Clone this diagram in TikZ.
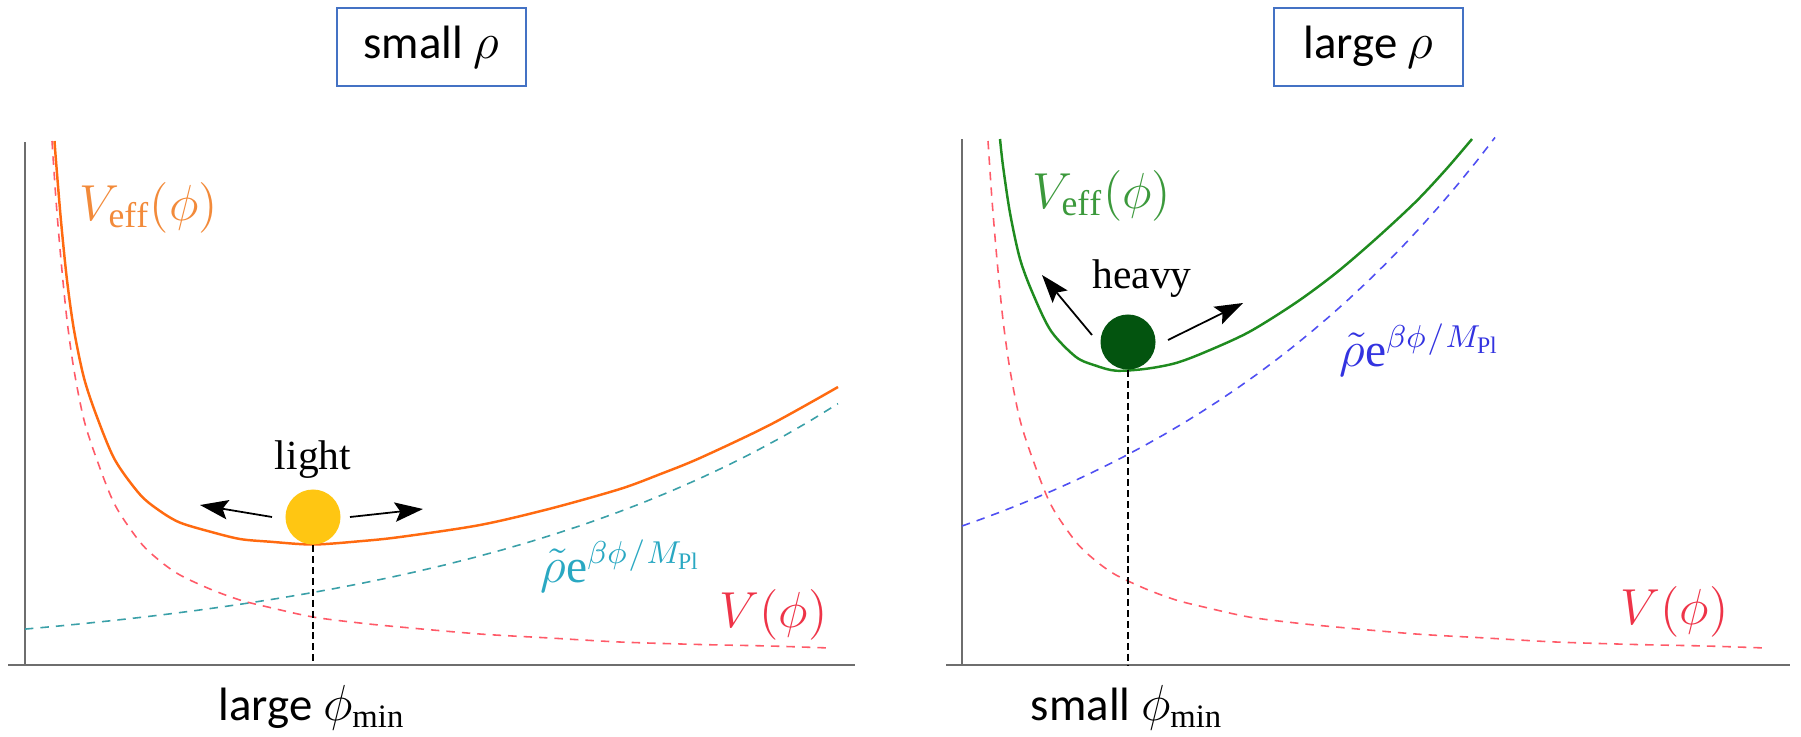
\documentclass[tikz,border=0pt]{standalone}
\usepackage{fontspec}
\setmainfont{Liberation Serif}
\newfontfamily\calfont{Carlito}
\usepackage{tikz}
\usetikzlibrary{arrows.meta}
\definecolor{boxblue}{HTML}{4472C4}
\definecolor{axisgray}{HTML}{6E6E6E}
\definecolor{veffor}{HTML}{FF6A10}
\definecolor{labelor}{HTML}{F28A3A}
\definecolor{veffgr}{HTML}{1F8B1F}
\definecolor{labelgr}{HTML}{3C993C}
\definecolor{potred}{HTML}{FF5A68}
\definecolor{labelred}{HTML}{EE3448}
\definecolor{rhoteal}{HTML}{3AA0A8}
\definecolor{labelteal}{HTML}{2AA8C2}
\definecolor{rhoblue}{HTML}{4F4FF2}
\definecolor{labelblue}{HTML}{3333E0}
\definecolor{ballyellow}{HTML}{FFC612}
\definecolor{balldark}{HTML}{03540F}

\begin{document}
\begin{tikzpicture}[
x=0.01cm,y=-0.01cm,
titlebox/.style={draw=boxblue,line width=0.8pt,minimum width=1.89cm,minimum height=0.78cm,font=\calfont\fontsize{13.3}{15}\selectfont},
axis/.style={draw=axisgray,line width=0.5pt},
veff/.style={line width=0.7pt},
dashcurve/.style={line width=0.45pt,dash pattern=on 2.4pt off 2pt},
ball/.style={circle,inner sep=0pt,minimum size=0.55cm},
kick/.style={-{Stealth[length=8pt,width=5.5pt,inset=1.5pt]},line width=0.5pt},
drop/.style={line width=0.7pt,dash pattern=on 2pt off 1.1pt},
tag/.style={anchor=base,font=\fontsize{11.8}{14}\selectfont},
mlabel/.style={anchor=base west,inner sep=0pt,font=\fontsize{14.5}{17}\selectfont},
rholabel/.style={anchor=base west,inner sep=0pt,font=\fontsize{13.5}{16}\selectfont},
philabel/.style={anchor=base,font=\calfont\fontsize{13.3}{15}\selectfont}
]
\useasboundingbox (0,0) rectangle (1801,736);

% small rho panel
\node[titlebox] (titleL) at (431.5,47) {small $\rho$};
\draw[axis] (25,142) -- (25,665);
\draw[axis] (8,665) -- (855,665);
\draw[dashcurve,rhoteal] plot[domain=25:838,samples=30] (\x,{665-36*exp(0.00244*(\x-26))});
\draw[dashcurve,potred] plot[smooth] coordinates {(52,141) (56,200) (61,260) (67,320) (74,370) (84,420) (97,460) (115,505) (140,542) (160,561) (180,575) (210,589) (240,600) (270,607.5) (313,617) (360,623) (400,627) (480,634) (550,638) (620,642) (700,644.5) (770,646) (830,648)};
\draw[veff,veffor] plot[smooth] coordinates {(54.5,141) (56,161) (61,221) (67,280) (74,330) (84,378) (97,417) (115,460) (140,494.5) (160,511) (180,522.6) (210,531.6) (240,539) (270,541.7) (313,544.5) (360,541.2) (400,537) (480,525) (550,508.7) (620,489) (660,474.2) (700,458) (770,424.8) (838,387)};
\node[ball,fill=ballyellow] (lightball) at (313,517) {};
\coordinate (phiminL) at (313,665);
\draw[drop] (lightball.south) -- (phiminL);
\coordinate (kickLa) at (272,517);
\coordinate (kickLb) at (200,505);
\coordinate (kickLc) at (350,517);
\coordinate (kickLd) at (423,509);
\draw[kick] (kickLa) -- (kickLb);
\draw[kick] (kickLc) -- (kickLd);
\node[tag] (lighttag) at (313,469) {light};
\node[mlabel,text=labelor] (veffL) at (79,220) {$V_{\mathrm{eff}}(\phi)$};
\node[rholabel,text=labelteal] (rhoL) at (540,582) {$\tilde{\rho}\mathrm{e}^{\beta\phi\mkern1mu/\mkern1mu M_{\mathrm{Pl}}}$};
\node[mlabel,text=labelred] (potL) at (719,627) {$V(\phi)$};
\node[philabel] (phiL) at (312,720) {large $\phi_{\min}$};

% large rho panel
\node[titlebox] (titleR) at (1368.5,47) {large $\rho$};
\draw[axis] (962,139) -- (962,665);
\draw[axis] (946,665) -- (1790,665);
\draw[dashcurve,rhoblue] plot[domain=962:1495,samples=30] (\x,{665-139*exp(0.0025*(\x-962))});
\draw[dashcurve,potred] plot[smooth] coordinates {(988,141) (992,200) (997,260) (1003,320) (1010,370) (1020,420) (1033,460) (1051,505) (1076,542) (1096,561) (1116,575) (1146,589) (1176,600) (1206,607.5) (1249,617) (1296,623) (1336,627) (1416,634) (1486,638) (1556,642) (1636,644.5) (1706,646) (1766,648)};
\draw[veff,veffgr] plot[smooth] coordinates {(1000,139) (1003,166) (1010,213) (1020,259) (1033,294) (1051,331) (1076,357) (1096,365.7) (1116,370.7) (1146,368.8) (1176,363) (1206,351.7) (1249,332) (1296,302.6) (1336,273) (1376,238.7) (1416,201.5) (1446,169.4) (1472,139)};
\node[ball,fill=balldark] (heavyball) at (1128,342) {};
\coordinate (phiminR) at (1128,665);
\draw[drop] (heavyball.south) -- (phiminR);
\coordinate (kickRa) at (1092,335);
\coordinate (kickRb) at (1042,275);
\coordinate (kickRc) at (1168,340);
\coordinate (kickRd) at (1243,303);
\draw[kick] (kickRa) -- (kickRb);
\draw[kick] (kickRc) -- (kickRd);
\node[tag] (heavytag) at (1142,288) {heavy};
\node[mlabel,text=labelgr] (veffR) at (1032,208) {$V_{\mathrm{eff}}(\phi)$};
\node[rholabel,text=labelblue] (rhoR) at (1339,366) {$\tilde{\rho}\mathrm{e}^{\beta\phi\mkern1mu/\mkern1mu M_{\mathrm{Pl}}}$};
\node[mlabel,text=labelred] (potR) at (1620,624) {$V(\phi)$};
\node[philabel] (phiR) at (1127,720) {small $\phi_{\min}$};
\end{tikzpicture}
\end{document}
